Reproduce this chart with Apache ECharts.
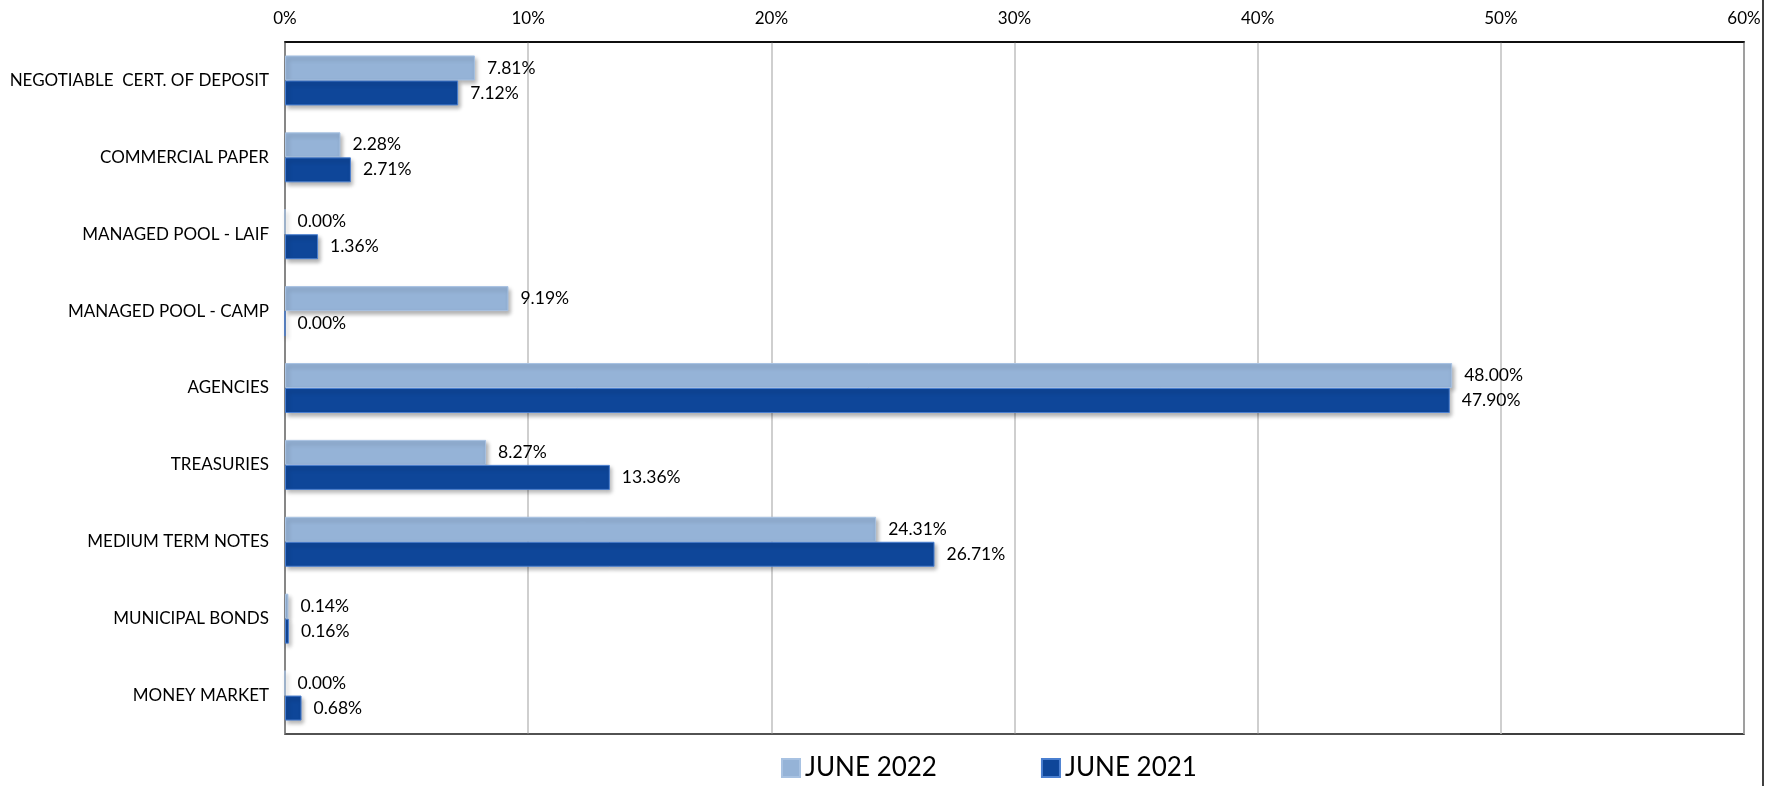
<!DOCTYPE html>
<html>
<head>
<meta charset="utf-8">
<script src="https://cdn.jsdelivr.net/npm/echarts@6/dist/echarts.min.js"></script>
<style>html,body{margin:0;padding:0;background:#fff;}#c{width:1785px;height:786px;}</style>
</head>
<body>
<div id="c"></div>
<script>
const categories = ['NEGOTIABLE  CERT. OF DEPOSIT','COMMERCIAL PAPER','MANAGED POOL - LAIF','MANAGED POOL - CAMP','AGENCIES','TREASURIES','MEDIUM TERM NOTES','MUNICIPAL BONDS','MONEY MARKET'];
const june2022 = [7.81, 2.28, 0.00, 9.19, 48.00, 8.27, 24.31, 0.14, 0.00];
const june2021 = [7.12, 2.71, 1.36, 0.00, 47.90, 13.36, 26.71, 0.16, 0.68];
const seriesNames = ['JUNE 2022', 'JUNE 2021'];

const chart = echarts.init(document.getElementById('c'));
const font = 'Lato, "Open Sans", sans-serif';
const shadow = {shadowBlur: 4, shadowOffsetX: 2, shadowOffsetY: 3, shadowColor: 'rgba(0,0,0,0.3)'};
chart.setOption({
  animation: false,
  textStyle: {fontFamily: font},
  grid: {left: 285, right: 41, top: 42, bottom: 52, show: true, borderColor: '#000', borderWidth: 1.5, backgroundColor: 'transparent'},
  legend: {
    data: seriesNames, bottom: 0, left: 776, itemGap: 104, itemWidth: 18, itemHeight: 18,
    icon: 'rect', textStyle: {fontSize: 26, color: '#000', fontFamily: font}
  },
  xAxis: [{
    type: 'value', position: 'top', min: 0, max: 60, interval: 10,
    axisLine: {show: true, lineStyle: {color: '#000', width: 1.5}},
    axisTick: {show: false},
    axisLabel: {formatter: '{value}%', fontSize: 17, color: '#000', margin: 15},
    splitLine: {show: true, lineStyle: {color: '#BFBFBF', width: 1.5}}
  }],
  yAxis: {
    type: 'category', data: categories, inverse: true,
    axisLine: {show: true, lineStyle: {color: '#7F7F7F', width: 1.5}},
    axisTick: {show: false},
    axisLabel: {fontSize: 17, color: '#000', margin: 16}
  },
  series: [
    {
      name: seriesNames[0], type: 'bar', data: june2022, barWidth: 25, barGap: '0%',
      itemStyle: Object.assign({color: '#95B3D7', borderColor: '#A8C2E2', borderWidth: 1}, shadow),
      label: {show: true, position: 'right', distance: 12, fontSize: 17.5, color: '#000', formatter: p => p.value.toFixed(2) + '%'}
    },
    {
      name: seriesNames[1], type: 'bar', data: june2021, barWidth: 25, barGap: '0%',
      itemStyle: Object.assign({color: '#0E4699', borderColor: '#4A7FD0', borderWidth: 1}, shadow),
      label: {show: true, position: 'right', distance: 12, fontSize: 17.5, color: '#000', formatter: p => p.value.toFixed(2) + '%'}
    }
  ],
  graphic: [
    {type: 'line', shape: {x1: 285, y1: 734, x2: 1460, y2: 734}, style: {stroke: '#595959', lineWidth: 1.5}, z: 100},
    {type: 'line', shape: {x1: 1763, y1: 0, x2: 1763, y2: 786}, style: {stroke: '#000', lineWidth: 1.5}}
  ]
});
</script>
</body>
</html>
